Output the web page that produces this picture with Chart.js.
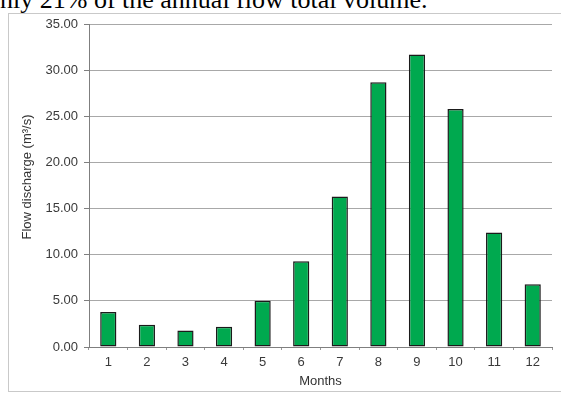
<!DOCTYPE html>
<html>
<head>
<meta charset="utf-8">
<script src="https://cdn.jsdelivr.net/npm/chart.js@4/dist/chart.umd.min.js"></script>
<style>
  html, body { margin: 0; padding: 0; background: #ffffff; overflow: hidden; }
  #page { position: relative; width: 561px; height: 394px; overflow: hidden; }
  #caption {
    position: absolute; left: 0; top: -13px;
    font-family: "Liberation Serif", "Times New Roman", serif;
    font-size: 26px; line-height: 26px; color: #000; white-space: nowrap;
  }
  #frame {
    position: absolute; left: 8px; top: 13px; width: 570px; height: 379px;
    border: 1px solid #c9c9c9; box-sizing: border-box;
  }
  #chart { position: absolute; left: 0; top: 0; }
</style>
</head>
<body>
<div id="page">
  <div id="caption">nly 21% of the annual flow total volume.</div>
  <div id="frame"></div>
  <canvas id="chart" width="561" height="394"></canvas>
</div>
<script>
// Mean monthly flow discharge (m3/s)
const months = ['1', '2', '3', '4', '5', '6', '7', '8', '9', '10', '11', '12'];
const discharge = [3.8, 2.4, 1.8, 2.2, 5.0, 9.3, 16.3, 28.7, 31.7, 25.8, 12.4, 6.8];
const yTickValues = [0, 5, 10, 15, 20, 25, 30, 35];
const xTitle = 'Months';
const yTitle = 'Flow discharge (m\u00B3/s)';

const labelFont = { family: 'Arial, "Liberation Sans", sans-serif', size: 13 };

// Rotated y-axis title, drawn beside the tick labels
const yTitlePlugin = {
  id: 'yTitle',
  afterDraw(chart) {
    const ctx = chart.ctx;
    ctx.save();
    ctx.translate(27, 177);
    ctx.rotate(-Math.PI / 2);
    ctx.font = '13px Arial, "Liberation Sans", sans-serif';
    ctx.fillStyle = '#333333';
    ctx.textAlign = 'center';
    ctx.textBaseline = 'middle';
    ctx.fillText(yTitle, 0, 0);
    ctx.restore();
  }
};

new Chart(document.getElementById('chart'), {
  type: 'bar',
  data: {
    labels: months,
    datasets: [{
      data: discharge,
      backgroundColor: '#00a94f',
      borderColor: '#1b1b1b',
      borderWidth: 1.5,
      borderSkipped: false,
      categoryPercentage: 1.0,
      barPercentage: 0.42
    }]
  },
  options: {
    responsive: false,
    animation: false,
    devicePixelRatio: 1,
    layout: { padding: { left: 8, right: 9, top: 24, bottom: 0 } },
    plugins: { legend: { display: false }, tooltip: { enabled: false } },
    scales: {
      x: {
        afterFit(scale) { scale.height = 47; },
        grid: {
          offset: true,
          drawOnChartArea: false,
          drawTicks: true,
          tickLength: 3,
          tickColor: '#9a9a9a'
        },
        border: { display: true, color: '#7f7f7f', width: 1 },
        ticks: { font: labelFont, color: '#3a3a3a', padding: 5, maxRotation: 0 },
        title: {
          display: true, text: xTitle, font: labelFont, color: '#333333',
          padding: { top: 0, bottom: 5 }
        }
      },
      y: {
        min: 0,
        max: 35,
        afterFit(scale) { scale.width = 81; },
        afterBuildTicks(scale) { scale.ticks = yTickValues.map(v => ({ value: v })); },
        grid: {
          color: '#a8a8a8',
          lineWidth: 1,
          drawTicks: true,
          tickLength: 5,
          tickColor: '#7f7f7f'
        },
        border: { display: true, color: '#7f7f7f', width: 1 },
        ticks: {
          font: labelFont,
          color: '#3a3a3a',
          padding: 6,
          callback: v => Number(v).toFixed(2)
        }
      }
    }
  },
  plugins: [yTitlePlugin]
});
</script>
</body>
</html>
